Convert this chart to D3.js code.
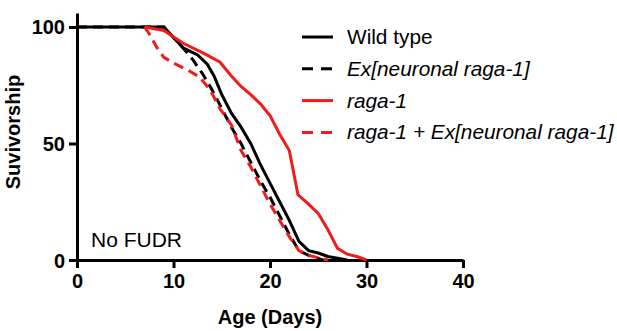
<!DOCTYPE html>
<html>
<head>
<meta charset="utf-8">
<script src="https://cdn.jsdelivr.net/npm/d3@7"></script>
<style>
    body { margin: 0; background: #fff; }
    text { font-family: "Liberation Sans", Arial, sans-serif; }
</style>
</head>
<body>
<div id="chart-container"></div>
<script>
// Dữ liệu sống sót (ngày, % sống)
const wildType = [[0, 100], [9, 100], [11, 91], [12.5, 88], [13.5, 84], [14.2, 79], [15, 71], [16, 63], [17, 57], [18, 50], [19, 41], [20, 33], [21, 25], [22, 17], [23, 8], [24, 4], [25, 3], [26, 1.5], [28, 0]];
const exNeuronal = [[0, 100], [9, 100], [11, 91], [12, 86], [13, 80], [14, 73], [15, 65], [16, 57], [17, 50], [18, 42], [19, 34], [20, 27], [21, 19], [22, 11], [23, 4], [24, 2], [25.5, 0]];
const raga1 = [[7, 100], [9, 98.5], [11, 93], [13, 89], [14.8, 85], [16, 79], [17, 74.5], [18, 71], [19, 67], [20, 62], [21, 54], [22, 47], [22.9, 28], [24, 24], [25, 20], [26, 13], [27, 5], [28, 2.5], [29, 1.5], [30, 0]];
const raga1Ex = [[7, 100], [7.5, 97], [8.3, 91], [9, 87], [10, 84.5], [11.5, 81.5], [12.7, 78.5], [13.8, 73], [14.8, 65], [16, 58], [17, 47], [18, 40], [19, 32], [20, 24], [21, 17], [22, 10], [23, 4], [24, 2], [26, 0]];

const seriesNames = ["Wild type", "Ex[neuronal raga-1]", "raga-1", "raga-1 + Ex[neuronal raga-1]"];
const seriesData = [wildType, exNeuronal, raga1, raga1Ex];
const seriesColors = ["#000", "#000", "#f21a1a", "#f21a1a"];
const seriesDashed = [false, true, false, true];
const seriesItalic = [false, true, true, true];

const xTicks = [0, 10, 20, 30, 40];
const yTicks = [0, 50, 100];

const width = 617;
const height = 331;

const svg = d3.select("#chart-container")
    .append("svg")
    .attr("width", width)
    .attr("height", height);

// Thang đo
const x = d3.scaleLinear().domain([0, 40]).range([77, 463]);
const y = d3.scaleLinear().domain([0, 106]).range([260, 13]);

// Trục x
const xAxis = svg.append("g")
    .attr("transform", `translate(0,${y(0)})`)
    .call(d3.axisBottom(x).tickValues(xTicks).tickSize(8).tickSizeOuter(0).tickPadding(6));

// Trục y
const yAxis = svg.append("g")
    .attr("transform", `translate(${x(0)},0)`)
    .call(d3.axisLeft(y).tickValues(yTicks).tickSize(8).tickSizeOuter(0).tickPadding(4));

[xAxis, yAxis].forEach(g => {
    g.selectAll(".domain, .tick line").attr("stroke", "#000").attr("stroke-width", 3);
    g.selectAll(".tick text")
        .attr("fill", "#000")
        .style("font-size", "20px")
        .style("font-weight", "bold")
        .style("font-family", "'Liberation Sans', Arial, sans-serif");
});
yAxis.selectAll(".tick text").attr("dy", "0.35em");

// Đường sống sót
const line = d3.line().x(d => x(d[0])).y(d => y(d[1]));

seriesData.forEach((data, i) => {
    svg.append("path")
        .datum(data)
        .attr("d", line)
        .attr("fill", "none")
        .attr("stroke", seriesColors[i])
        .attr("stroke-width", 3)
        .attr("stroke-dasharray", seriesDashed[i] ? "10,6" : null);
});

// Chú thích
const legend = svg.append("g");
seriesNames.forEach((name, i) => {
    const ly = 37 + i * 31.8;
    legend.append("line")
        .attr("x1", 302).attr("x2", 333)
        .attr("y1", ly).attr("y2", ly)
        .attr("stroke", seriesColors[i])
        .attr("stroke-width", 3)
        .attr("stroke-dasharray", seriesDashed[i] ? "11,8" : null);
    legend.append("text")
        .attr("x", 347)
        .attr("y", ly + 7)
        .style("font-size", "20.8px")
        .style("font-style", seriesItalic[i] ? "italic" : "normal")
        .text(name);
});

// Nhãn
svg.append("text")
    .attr("x", 91)
    .attr("y", 247)
    .style("font-size", "21px")
    .text("No FUDR");

svg.append("text")
    .attr("x", 270)
    .attr("y", 324)
    .attr("text-anchor", "middle")
    .style("font-size", "20px")
    .style("font-weight", "bold")
    .text("Age (Days)");

svg.append("text")
    .attr("transform", "translate(20,132) rotate(-90)")
    .attr("text-anchor", "middle")
    .style("font-size", "20px")
    .style("font-weight", "bold")
    .text("Suvivorship");
</script>
</body>
</html>
